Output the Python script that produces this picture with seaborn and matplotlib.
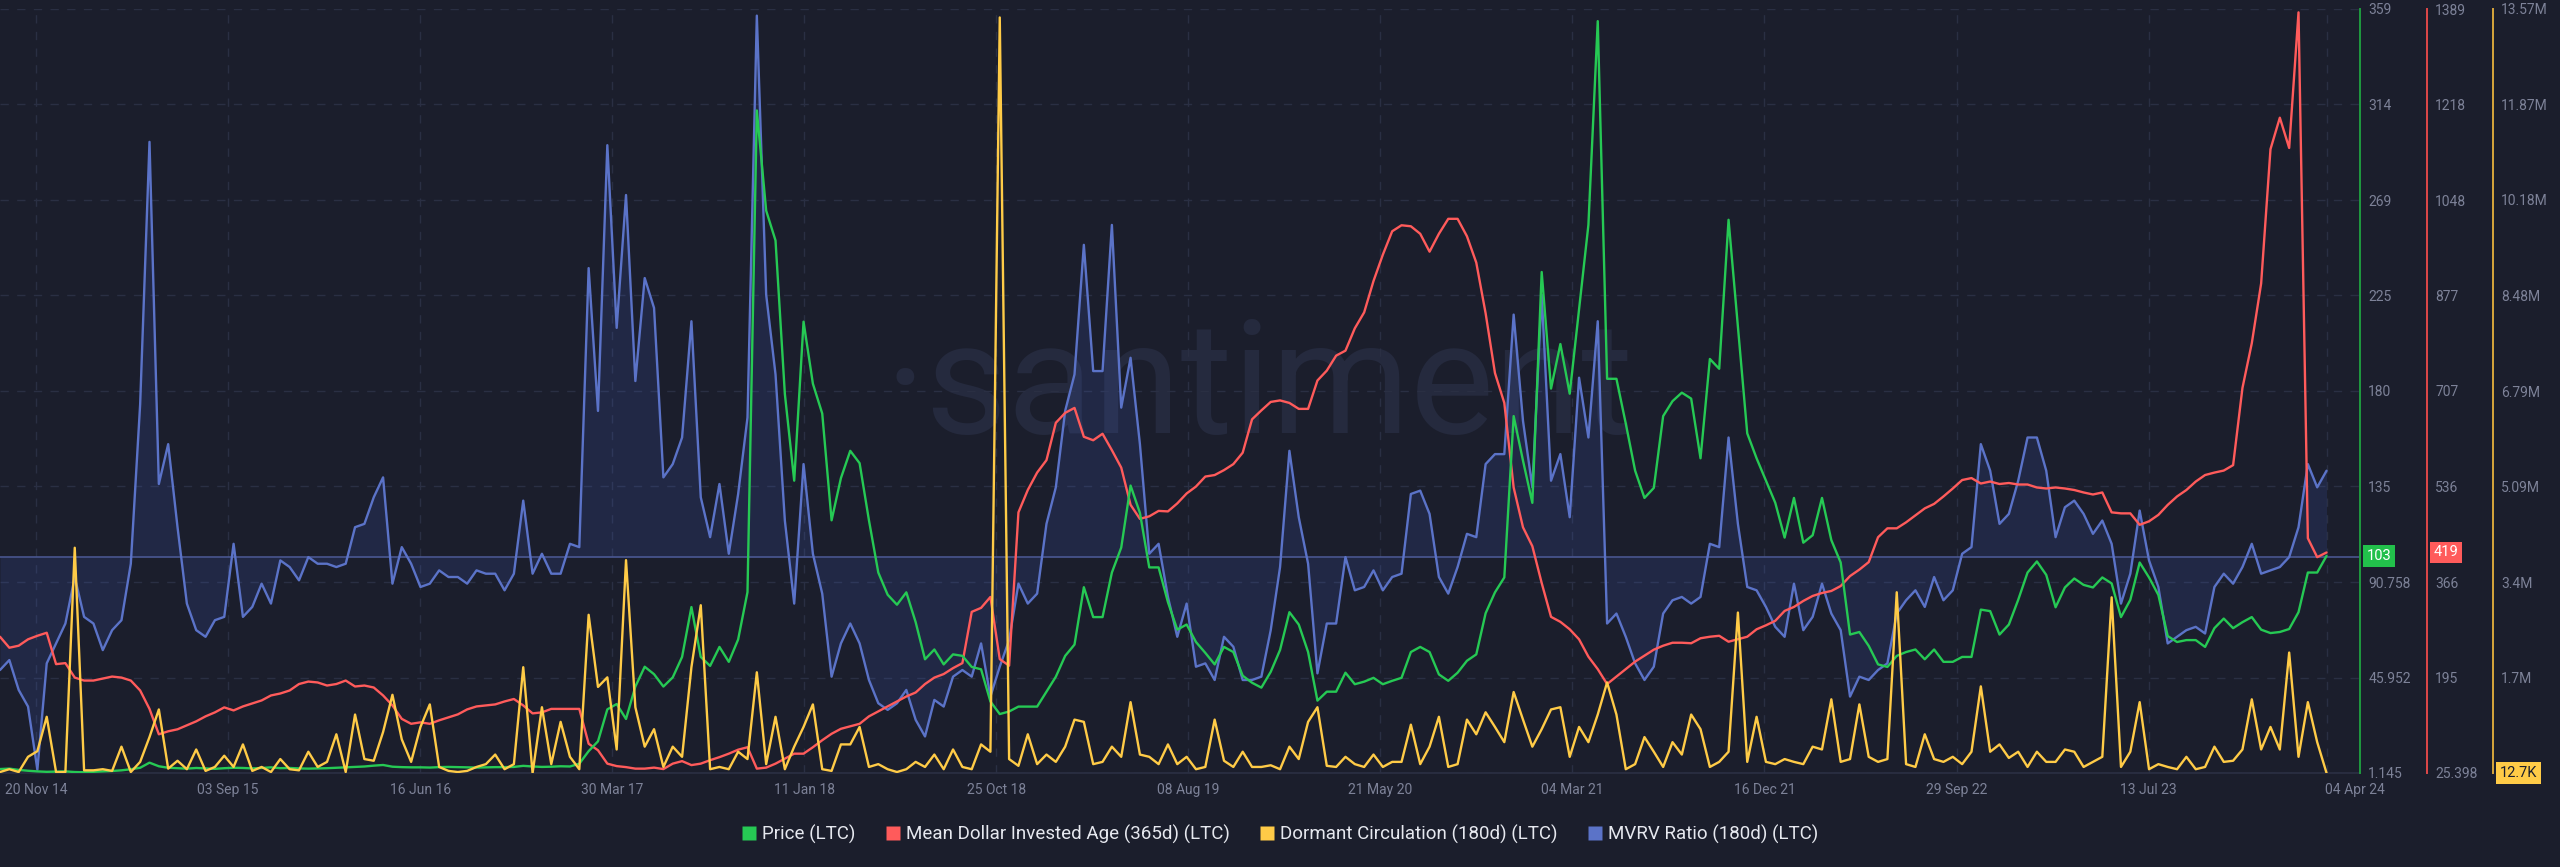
import numpy as np
import pandas as pd
import matplotlib
matplotlib.use("Agg")
import matplotlib.pyplot as plt
import matplotlib.transforms as mtransforms
from matplotlib.ticker import FixedLocator, FixedFormatter
from matplotlib.lines import Line2D
import seaborn as sns

# ---------------- data ----------------
START = "2014-09-27"
END = "2024-04-04"
N_POINTS = 250

price = [3.0, 3.2, 2.6, 2.2, 1.9, 1.7, 1.8, 1.9, 1.6, 1.5, 1.7, 1.9, 2.1, 2.4, 2.9, 3.6,
         6.0,
         4.3, 3.6, 3.4, 3.2, 3.5, 3.3, 3.1, 3.4, 3.6, 3.5, 3.3, 3.5, 3.8, 3.4,
         3.5, 3.3, 3.2, 3.3, 3.4, 3.6, 3.8, 4.0, 4.2, 4.6, 4.9, 4.1,
         3.9, 3.8, 3.8, 3.7, 3.9, 4.0, 3.9, 3.8, 3.7, 3.8, 3.9, 3.9, 4.0, 4.5, 4.2, 4.0, 4.1, 4.3, 4.2,
         5.5,
         11.4, 16.0, 31.0, 33.5, 26.5, 41.7, 51.0, 47.5, 41.7, 46.0, 55.6, 79.0, 55.6, 51.4, 60.3, 53.3,
         63.8, 86.0, 312.0, 265.0, 251.0, 179.0, 138.3,
         212.9, 183.8, 169.8, 119.7, 139.5, 152.3, 146.5, 119.7, 95.2, 84.8, 80.1, 85.9, 71.9, 54.5,
         59.1, 52.1, 56.8, 56.1, 50.9, 49.8, 34.7, 28.8, 30.0, 32.3, 32.3, 32.3, 39.3, 46.3, 56.1, 61.4,
         88.3, 74.3, 74.3, 95.2, 106.9, 136.0, 123.2, 97.6, 97.6, 81.3, 68.4, 70.8,
         62.6, 57.5, 52.1, 60.3, 57.9, 46.8, 43.5, 41.2, 48.6, 58.9, 76.6, 70.8, 57.9, 35.1, 39.3, 39.3,
         48.2, 42.8, 44.0, 45.8, 42.8, 44.4, 45.8, 57.9, 60.3, 57.9, 47.4, 44.4, 48.2, 53.8, 56.8, 76.1,
         85.9, 92.9, 168.6, 147.7, 127.9, 236.2, 181.5, 202.4, 179.1, 218.7,
         258.3, 353.9, 186.1, 186.1, 165.1, 143.0, 130.2, 134.9, 168.6, 175.6, 179.6, 176.8, 148.8, 195.4,
         190.8, 260.7, 210.6, 160.5, 148.8, 138.3, 127.9, 111.6, 130.2, 109.2, 112.7, 130.2, 110.4, 99.9,
         66.1, 67.3, 60.8, 52.1, 50.9, 56.1, 57.9, 59.1, 54.5, 59.1, 53.3, 53.3, 55.6, 55.6,
         77.8, 77.1, 66.1, 70.8, 82.4, 95.2, 100.4, 94.1, 78.9, 88.2, 92.4, 89.4, 88.2, 92.9, 90.1, 74.3,
         82.4, 99.9, 92.9, 84.7, 65.4, 62.6, 63.5, 63.5, 60.3, 69.1, 73.6, 69.1, 71.9, 74.3, 68.4, 66.8,
         67.3, 68.7, 76.6, 95.2, 95.2, 103.0]

mean_dollar_invested_age = [
    268.6, 249.0, 252.6, 264.0, 270.3, 275.7, 219.7, 221.5, 195.7, 190.4, 190.4, 194.0, 197.5, 195.7,
    190.4, 172.7, 139.8, 94.5, 99.8, 103.4, 110.5, 117.6, 126.5, 133.6, 142.5, 137.1, 144.2, 149.6,
    154.9, 163.8, 167.3, 172.7, 184.2, 188.6, 187.0, 181.5, 184.2, 190.4, 179.8, 181.5, 178.0, 163.8, 146.0,
    122.0, 113.2, 115.8, 113.2, 119.4, 124.7, 130.0, 138.9, 144.2, 146.0, 147.8, 153.1, 157.5, 146.0,
    131.8, 133.6, 139.8, 139.8, 139.8, 139.8, 77.6, 66.0, 42.1, 37.7, 35.9, 33.2, 33.2, 35.0, 32.4,
    42.1, 46.6, 39.5, 42.1, 48.3, 53.7, 59.9, 67.0, 71.4, 33.2, 35.0, 42.1, 51.0, 59.9,
    59.9, 71.4, 83.9, 95.4, 104.3, 108.7, 113.2, 126.5, 135.4, 144.2, 153.1, 162.0, 169.1, 184.2,
    195.7, 202.0, 212.6, 221.5, 313.0, 320.1, 339.6, 228.6, 217.0, 490.6, 530.5, 561.6, 583.8, 650.4,
    668.2, 677.0, 625.5, 619.3, 630.9, 601.6, 570.5, 504.0, 479.0, 483.5, 493.2, 492.3, 506.6, 524.3,
    536.7, 554.5, 557.2, 566.0, 576.7, 597.1, 656.6, 672.6, 687.7, 690.4, 685.9, 675.3, 675.3, 725.9,
    743.6, 770.3, 779.2, 819.1, 847.5, 903.5, 950.5, 992.3, 1003.0, 1001.2, 987.8, 955.9, 987.8,
    1014.5, 1014.5, 983.4, 936.3, 845.8, 739.2, 685.9, 535.0, 463.9, 430.2, 364.5, 304.1, 295.2,
    281.9, 264.0,
    233.0, 210.8, 184.2, 197.5, 210.8, 224.2, 234.8, 245.5, 252.6, 257.9, 257.9, 257.0, 265.9, 268.6,
    270.3, 259.7, 264.1, 268.6, 281.9, 289.0, 297.0, 314.7, 321.8, 332.5, 341.4, 346.7, 350.3, 359.1,
    376.9, 388.4, 401.8, 446.2, 462.1, 462.1, 472.8, 485.2, 497.7, 505.7, 519.0, 533.2, 548.3, 551.8,
    542.1, 545.6, 541.2, 543.0, 540.3, 540.3, 535.0, 533.2, 535.0, 533.2, 530.5, 526.1, 522.5, 526.1,
    490.6, 488.8, 488.8, 468.4, 474.6, 486.1, 503.9, 519.0, 530.5, 545.6, 557.2, 561.6, 565.2, 574.9,
    712.6, 792.5, 899.1, 1138.8, 1195.0, 1141.0, 1383.0, 444.4, 410.6, 419.0]

# Dormant circulation, millions of LTC
dormant_circulation_m = [
    0.03, 0.08, 0.03, 0.30, 0.40, 1.01, 0.03, 0.03, 4.01, 0.06, 0.06, 0.08, 0.05, 0.48, 0.03, 0.21,
    0.65, 1.14, 0.09, 0.23, 0.08, 0.43, 0.05, 0.12, 0.32, 0.12, 0.52, 0.05, 0.12, 0.03, 0.26, 0.08,
    0.06, 0.39, 0.12, 0.21, 0.70, 0.03, 1.05, 0.26, 0.23, 0.74, 1.40,
    0.61, 0.21, 0.83, 1.23, 0.12, 0.05, 0.03, 0.05, 0.12, 0.17, 0.34, 0.08, 0.17, 1.89, 0.01, 1.18,
    0.17, 0.92, 0.30, 0.08, 2.82, 1.54, 1.71, 0.43, 3.79, 1.18, 0.48, 0.79, 0.12, 0.48, 0.30, 1.89,
    2.99, 0.08, 0.12, 0.08, 0.39, 0.26, 1.80, 0.17, 1.01, 0.08, 0.48,
    0.83, 1.23, 0.08, 0.05, 0.52, 0.52, 0.83, 0.12, 0.17, 0.08, 0.03, 0.08, 0.21, 0.12, 0.34, 0.08,
    0.43, 0.12, 0.08, 0.52, 0.39, 13.42, 0.26, 0.14, 0.70, 0.17, 0.34, 0.21, 0.48, 0.96, 0.92, 0.17,
    0.21, 0.48, 0.30, 1.27, 0.34, 0.30, 0.17, 0.52, 0.17, 0.30,
    0.08, 0.12, 0.96, 0.23, 0.12, 0.39, 0.12, 0.12, 0.15, 0.08, 0.48, 0.26, 0.92, 1.18, 0.14, 0.12,
    0.30, 0.17, 0.12, 0.34, 0.12, 0.21, 0.21, 0.87, 0.17, 0.48, 1.01, 0.12, 0.17, 0.96, 0.70, 1.09,
    0.83, 0.56, 1.45, 0.96, 0.48, 0.79, 1.14, 1.18, 0.30, 0.83,
    0.56, 1.05, 1.62, 1.05, 0.08, 0.17, 0.65, 0.39, 0.12, 0.56, 0.34, 1.05, 0.79, 0.12, 0.21, 0.39,
    2.86, 0.21, 1.01, 0.21, 0.17, 0.26, 0.21, 0.17, 0.48, 0.43, 1.32, 0.21, 0.26, 1.23, 0.30, 0.21,
    0.26, 3.22, 0.17, 0.12, 0.70, 0.26, 0.21, 0.30, 0.17, 0.39,
    1.55, 0.39, 0.52, 0.28, 0.39, 0.12, 0.39, 0.21, 0.21, 0.43, 0.39, 0.12, 0.21, 0.30, 3.13, 0.12,
    0.39, 1.27, 0.08, 0.17, 0.12, 0.08, 0.30, 0.08, 0.12, 0.48, 0.21, 0.23, 0.43, 1.32, 0.43, 0.83,
    0.43, 2.15, 0.30, 1.27, 0.56, 0.0127]

mvrv_ratio = [
    0.66, 0.69, 0.60, 0.55, 0.36, 0.68, 0.74, 0.80, 0.94, 0.82, 0.80, 0.72, 0.78, 0.81, 0.98, 1.46,
    2.25, 1.22, 1.34, 1.09, 0.86, 0.78, 0.76, 0.81, 0.82, 1.04, 0.82, 0.85, 0.92, 0.86, 0.99, 0.97,
    0.93, 1.00, 0.98, 0.98, 0.97, 0.98, 1.09, 1.10, 1.18, 1.24, 0.92,
    1.03, 0.98, 0.91, 0.92, 0.96, 0.94, 0.94, 0.92, 0.96, 0.95, 0.95, 0.90, 0.95, 1.17, 0.95, 1.01,
    0.95, 0.95, 1.04, 1.03, 1.87, 1.44, 2.24, 1.69, 2.09, 1.53, 1.84, 1.75, 1.24, 1.28, 1.36, 1.71,
    1.18, 1.06, 1.22, 1.01, 1.19, 1.42, 2.63, 1.79, 1.55, 1.11, 0.86,
    1.28, 1.01, 0.89, 0.64, 0.74, 0.80, 0.74, 0.63, 0.56, 0.54, 0.56, 0.60, 0.51, 0.46, 0.57, 0.55,
    0.64, 0.66, 0.64, 0.74, 0.58, 0.67, 0.75, 0.92, 0.86, 0.89, 1.10, 1.21, 1.44, 1.55, 1.94, 1.56,
    1.56, 2.00, 1.45, 1.60, 1.34, 1.01, 1.04, 0.88, 0.76, 0.86,
    0.67, 0.68, 0.63, 0.76, 0.73, 0.63, 0.63, 0.64, 0.78, 0.97, 1.32, 1.12, 0.98, 0.65, 0.80, 0.80,
    1.00, 0.90, 0.91, 0.96, 0.90, 0.94, 0.95, 1.19, 1.20, 1.13, 0.94, 0.89, 0.97, 1.07, 1.06, 1.28,
    1.31, 1.31, 1.73, 1.41, 1.21, 1.79, 1.23, 1.31, 1.12, 1.54,
    1.36, 1.71, 0.80, 0.83, 0.76, 0.68, 0.63, 0.67, 0.83, 0.87, 0.88, 0.86, 0.88, 1.04, 1.03, 1.36,
    1.10, 0.91, 0.90, 0.85, 0.79, 0.76, 0.92, 0.78, 0.82, 0.92, 0.83, 0.78, 0.58, 0.64, 0.63, 0.66,
    0.68, 0.83, 0.87, 0.90, 0.85, 0.94, 0.87, 0.90, 1.01, 1.03,
    1.34, 1.26, 1.10, 1.13, 1.23, 1.36, 1.36, 1.26, 1.06, 1.15, 1.17, 1.13, 1.07, 1.11, 1.04, 0.86,
    0.95, 1.14, 0.99, 0.91, 0.74, 0.76, 0.78, 0.79, 0.77, 0.91, 0.95, 0.92, 0.97, 1.04, 0.95, 0.96,
    0.97, 1.00, 1.09, 1.28, 1.21, 1.26]

x_tick_dates = ["2014-11-20", "2015-09-03", "2016-06-16", "2017-03-30", "2018-01-11",
                "2018-10-25", "2019-08-08", "2020-05-21", "2021-03-04", "2021-12-16",
                "2022-09-29", "2023-07-13", "2024-04-04"]
x_tick_labels = ["20 Nov 14", "03 Sep 15", "16 Jun 16", "30 Mar 17", "11 Jan 18",
                 "25 Oct 18", "08 Aug 19", "21 May 20", "04 Mar 21", "16 Dec 21",
                 "29 Sep 22", "13 Jul 23", "04 Apr 24"]

price_tick_labels = ["1.145", "45.952", "90.758", "135", "180", "225", "269", "314", "359"]
mdia_tick_labels = ["25.398", "195", "366", "536", "707", "877", "1048", "1218", "1389"]
dormant_tick_labels = ["", "1.7M", "3.4M", "5.09M", "6.79M", "8.48M", "10.18M", "11.87M", "13.57M"]

legend_labels = ["Price (LTC)", "Mean Dollar Invested Age (365d) (LTC)",
                 "Dormant Circulation (180d) (LTC)", "MVRV Ratio (180d) (LTC)"]

# ---------------- style ----------------
BG = "#1b1e2c"
GRID = "#2a2f43"
TXT = "#7d8298"
GREEN = "#26c954"
RED = "#ff5b5b"
YELLOW = "#ffcb47"
BLUE = "#5b73c8"

sns.set_theme(style="dark")
plt.rcParams["font.family"] = ["Roboto", "DejaVu Sans"]

dates = pd.date_range(START, END, periods=N_POINTS)
df = pd.DataFrame({"date": dates, "price": price, "mdia": mean_dollar_invested_age,
                   "dormant": dormant_circulation_m, "mvrv": mvrv_ratio})

W, H = 2560, 867
fig = plt.figure(figsize=(W / 100, H / 100), dpi=100, facecolor=BG)
ax = fig.add_axes([0, (H - 773) / H, 2360 / W, (773 - 9) / H])
ax.set_facecolor(BG)

# watermark
ax.text(885 / W, 1 - 433 / H, "\u00b7santiment", transform=fig.transFigure, fontsize=114,
        color="#252a3e", ha="left", va="baseline", zorder=0.5, family=["Roboto", "DejaVu Sans"])

# MVRV (hidden axis)
ax.fill_between(df["date"], df["mvrv"], 1.0, color="#5275ff", alpha=0.12, lw=0, zorder=1)
ax.axhline(1.0, color="#4d5b98", lw=1.1, zorder=1.5)
sns.lineplot(data=df, x="date", y="mvrv", ax=ax, color=BLUE, lw=1.7, legend=False, zorder=2)
ax.set_ylim(0.35, 2.65)
ax.yaxis.set_major_locator(FixedLocator(np.linspace(0.35, 2.65, 9)))
ax.tick_params(axis="y", length=0, labelleft=False, labelright=False)
ax.set_ylabel("")
ax.set_xlabel("")

x0 = pd.Timestamp(START)
ax.set_xlim(x0, x0 + pd.Timedelta(days=3527))
ax.xaxis.set_major_locator(FixedLocator([matplotlib.dates.date2num(pd.Timestamp(d)) for d in x_tick_dates]))
ax.xaxis.set_major_formatter(FixedFormatter(x_tick_labels))
ax.tick_params(axis="x", length=0, pad=7, labelsize=10, labelcolor=TXT)
ax.grid(True, axis="both", color=GRID, ls=(0, (6, 6)), lw=1)
for s in ["left", "top", "right"]:
    ax.spines[s].set_visible(False)
ax.spines["bottom"].set_color(GRID)
last_lbl = ax.get_xticklabels()[-1]
last_lbl.set_transform(last_lbl.get_transform() +
                       mtransforms.ScaledTranslation(28 / 100, 0, fig.dpi_scale_trans))


def setup_twin(tw, spine_x, color, lo, hi, labels):
    tw.set_ylim(lo, hi)
    for s in ["left", "top", "bottom"]:
        tw.spines[s].set_visible(False)
    tw.spines["right"].set_position(("axes", spine_x))
    tw.spines["right"].set_color(color)
    tw.spines["right"].set_linewidth(1.4)
    tw.yaxis.set_major_locator(FixedLocator(np.linspace(lo, hi, 9)))
    tw.yaxis.set_major_formatter(FixedFormatter(labels))
    tw.tick_params(axis="y", length=0, pad=6, labelsize=10, labelcolor=TXT)
    tw.grid(False)
    tw.set_ylabel("")
    tw.set_xlabel("")


ax_r = ax.twinx()
sns.lineplot(data=df, x="date", y="mdia", ax=ax_r, color=RED, lw=1.7, legend=False)
setup_twin(ax_r, 2427 / 2360, "#e04848", 25.398, 1389.0, mdia_tick_labels)

ax_g = ax.twinx()
sns.lineplot(data=df, x="date", y="price", ax=ax_g, color=GREEN, lw=1.7, legend=False)
setup_twin(ax_g, 1.0, "#1f9a3f", 1.145, 359.6, price_tick_labels)

ax_y = ax.twinx()
sns.lineplot(data=df, x="date", y="dormant", ax=ax_y, color=YELLOW, lw=1.7, legend=False)
setup_twin(ax_y, 2493 / 2360, "#d8a63c", 0.0127, 13.57, dormant_tick_labels)

for tw in (ax_r, ax_g, ax_y):
    tw.set_xlim(ax.get_xlim())

# value badges
def badge(tw, spine_x, value, text, fc, tc):
    tr = mtransforms.blended_transform_factory(tw.transAxes, tw.transData)
    tw.text(spine_x + 7 / 2360, value, text, transform=tr, ha="left", va="center",
            fontsize=10.5, color=tc, zorder=10, clip_on=False,
            bbox=dict(boxstyle="square,pad=0.25", fc=fc, ec="none"))

badge(ax_g, 1.0, price[-1], "103", "#22c04b", "white")
badge(ax_r, 2427 / 2360, mean_dollar_invested_age[-1], "419", RED, "white")
badge(ax_y, 2493 / 2360, dormant_circulation_m[-1], "12.7K", YELLOW, BG)

# legend
handles = [Line2D([0], [0], marker="s", color="none", markerfacecolor=c, markeredgecolor="none",
                  markersize=10.5) for c in [GREEN, RED, YELLOW, BLUE]]
fig.legend(handles, legend_labels, loc="center", bbox_to_anchor=(0.5, 1 - 834 / H), ncol=4,
           frameon=False, fontsize=13.5, labelcolor="#e6e8ef", handletextpad=0.3,
           columnspacing=1.6, handlelength=0.8)

fig.savefig("out.png", dpi=100, facecolor=BG)
